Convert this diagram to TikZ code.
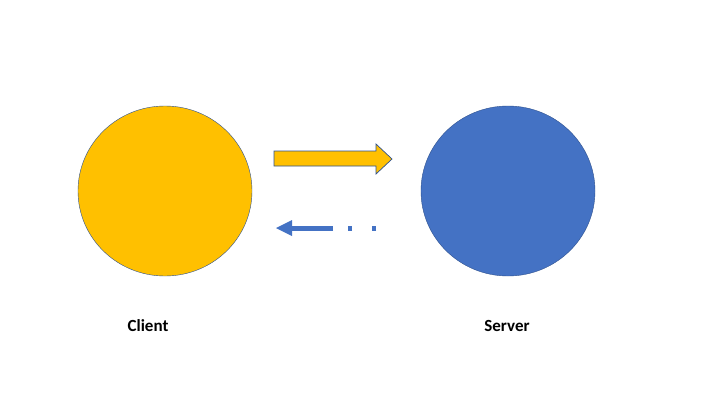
\documentclass[tikz,border=0pt]{standalone}
\usepackage{fontspec}
\setmainfont{Carlito}
\usetikzlibrary{arrows.meta,shapes.geometric}
\definecolor{cgold}{HTML}{FFC000}
\definecolor{cblue}{HTML}{4472C4}
\definecolor{cedge}{HTML}{2F528F}
\tikzset{lbl/.style={font=\bfseries\fontsize{17}{20}\selectfont},
circ/.style={ellipse,draw=cedge,minimum width=174,minimum height=170,inner sep=0}}
\begin{document}
\begin{tikzpicture}[x=1pt,y=-1pt]
\useasboundingbox (0,0) rectangle (715,415);
\fill[white] (0,0) rectangle (715,415);
\node[circ,fill=cgold] (client) at (165,191) {};
\node[circ,fill=cblue] (server) at (508,191) {};
\node[lbl] (cl) at (148,326) {Client};
\node[lbl] (sl) at (507,326) {Server};
\draw[cedge,fill=cgold,line width=0.7] (274,151) -- (376,151) -- (376,144) -- (392,159) -- (376,174) -- (376,166) -- (274,166) -- cycle;
\coordinate (rs) at (376,228);
\coordinate (re) at (290,228);
\draw[cblue,line width=5,dash pattern=on 4 off 20 on 4 off 15 on 100] (rs) -- (re);
\fill[cblue] (276,228) -- (292,220) -- (292,236) -- cycle;
\end{tikzpicture}
\end{document}
